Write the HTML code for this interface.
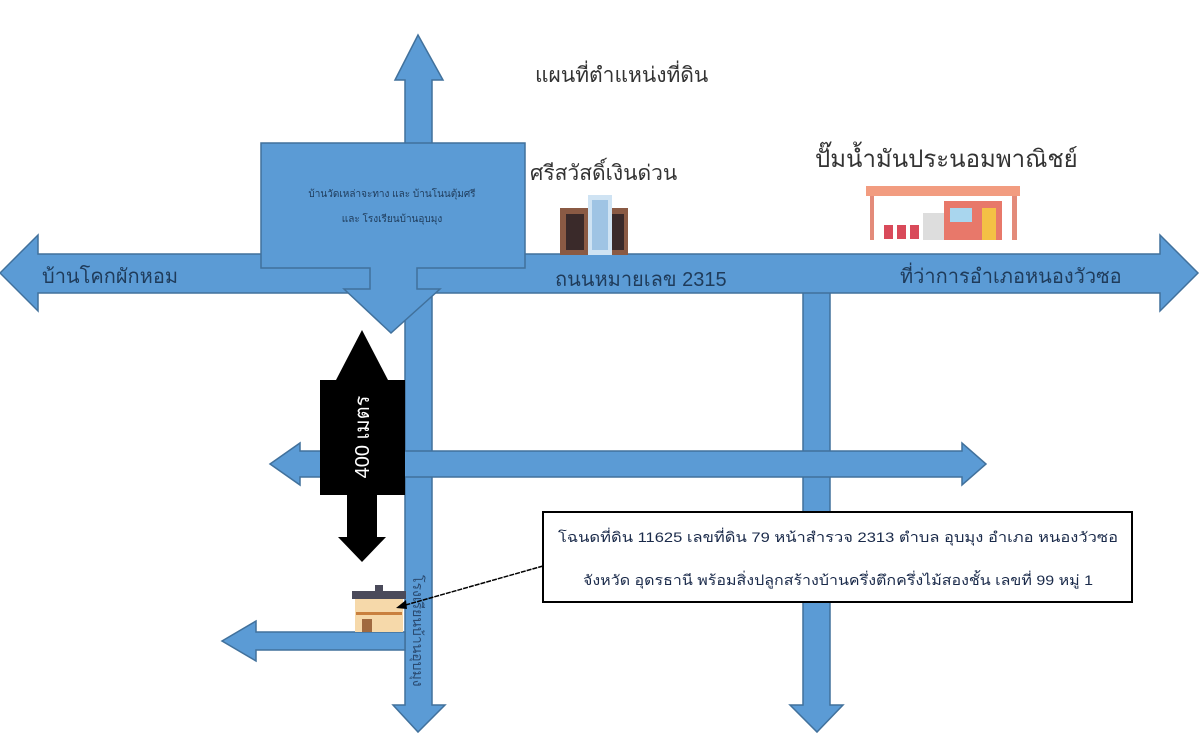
<!DOCTYPE html>
<html><head><meta charset="utf-8"><style>
html,body{margin:0;padding:0;background:#fff;width:1200px;height:750px;overflow:hidden}
svg{display:block}
text{font-family:"Liberation Sans","DejaVu Sans",sans-serif}
</style></head><body>
<svg width="1200" height="750" viewBox="0 0 1200 750" xmlns="http://www.w3.org/2000/svg">
<g fill="#5B9BD5" stroke="#41719C" stroke-width="1.5">
<polygon points="405,145 405,80 395,80 418,35 443,80 432,80 432,145"/>
<polygon points="405,290 432,290 432,705 445,705 418,732 393,705 405,705"/>
<polygon points="803,290 830,290 830,705 843,705 817,732 790,705 803,705"/>
<polygon points="0,273 38,235 38,254 1160,254 1160,235 1198,273 1160,311 1160,293 38,293 38,311"/>
<polygon points="270,464 300,443 300,451 962,451 962,443 986,464 962,485 962,477 300,477 300,485"/>
<polygon points="222,641 256,621 256,632 405,632 405,650 256,650 256,661"/>
<polygon points="261,143 525,143 525,268 417,268 417,289 440,289 391,333 344,289 370,289 370,268 261,268"/>
</g>
<text x="392" y="197" font-size="10" text-anchor="middle" fill="#1f3b5a">บ้านวัดเหล่าจะทาง และ บ้านโนนตุ้มศรี</text>
<text x="392" y="222" font-size="10" text-anchor="middle" fill="#1f3b5a">และ โรงเรียนบ้านอุบมุง</text>
<polygon fill="#000" points="362,330 388,380 405,380 405,495 377,495 377,537 386,537 362,562 338,537 347,537 347,495 320,495 320,380 336,380"/>
<text transform="translate(369,437) rotate(-90)" font-size="20" text-anchor="middle" fill="#fff">400 เมตร</text>
<text x="535" y="82" font-size="21" fill="#333">แผนที่ตำแหน่งที่ดิน</text>
<text x="530" y="180" font-size="21" fill="#333">ศรีสวัสดิ์เงินด่วน</text>
<text x="815" y="167" font-size="24" fill="#333">ปั๊มน้ำมันประนอมพาณิชย์</text>
<text x="42" y="283" font-size="20" fill="#1f3b5a">บ้านโคกผักหอม</text>
<text x="555" y="286" font-size="20" fill="#1f3b5a">ถนนหมายเลข 2315</text>
<text x="900" y="283" font-size="20" fill="#1f3b5a">ที่ว่าการอำเภอหนองวัวซอ</text>
<text transform="translate(413,575) rotate(90)" font-size="14" fill="#2a4a70">โรงเรียนบ้านอุบมุง</text>
<g>
<rect x="560" y="208" width="68" height="47" fill="#8a5a44"/>
<rect x="588" y="195" width="24" height="60" fill="#cfe3f3"/>
<rect x="566" y="214" width="18" height="36" fill="#3a2a2a"/>
<rect x="612" y="214" width="12" height="36" fill="#3a2a2a"/>
<rect x="592" y="200" width="16" height="50" fill="#9fc4e4"/>
</g>
<g>
<rect x="866" y="186" width="154" height="10" fill="#f29c80"/>
<rect x="870" y="196" width="4" height="44" fill="#e38b7a"/>
<rect x="1012" y="196" width="5" height="44" fill="#e38b7a"/>
<rect x="944" y="201" width="58" height="39" fill="#e8786a"/>
<rect x="923" y="213" width="21" height="27" fill="#ddd"/>
<rect x="950" y="208" width="22" height="14" fill="#a9d6ee"/>
<rect x="982" y="208" width="14" height="32" fill="#f4c145"/>
<rect x="884" y="225" width="9" height="14" fill="#d94a5a"/>
<rect x="897" y="225" width="9" height="14" fill="#d94a5a"/>
<rect x="910" y="225" width="9" height="14" fill="#d94a5a"/>
</g>
<g>
<rect x="355" y="598" width="48" height="34" fill="#f6d9aa"/>
<rect x="352" y="591" width="54" height="8" fill="#4a4a5a"/>
<rect x="375" y="585" width="8" height="7" fill="#4a4a5a"/>
<rect x="356" y="612" width="46" height="3" fill="#c9803e"/>
<rect x="362" y="619" width="10" height="13" fill="#a06a40"/>
</g>
<rect x="543" y="512" width="589" height="90" fill="#fff" stroke="#000" stroke-width="2"/>
<text x="838" y="542" font-size="14" text-anchor="middle" textLength="560" lengthAdjust="spacingAndGlyphs" fill="#1a2a4a">โฉนดที่ดิน 11625  เลขที่ดิน 79 หน้าสำรวจ 2313 ตำบล อุบมุง อำเภอ หนองวัวซอ</text>
<text x="838" y="585" font-size="14" text-anchor="middle" textLength="510" lengthAdjust="spacingAndGlyphs" fill="#1a2a4a">จังหวัด อุดรธานี พร้อมสิ่งปลูกสร้างบ้านครึ่งตึกครึ่งไม้สองชั้น เลขที่ 99 หมู่ 1</text>
<line x1="543" y1="566" x2="402" y2="606" stroke="#000" stroke-width="1.5" stroke-dasharray="5,1"/>
<polygon points="396,608 406,600 407,609" fill="#000"/>
</svg>
</body></html>
